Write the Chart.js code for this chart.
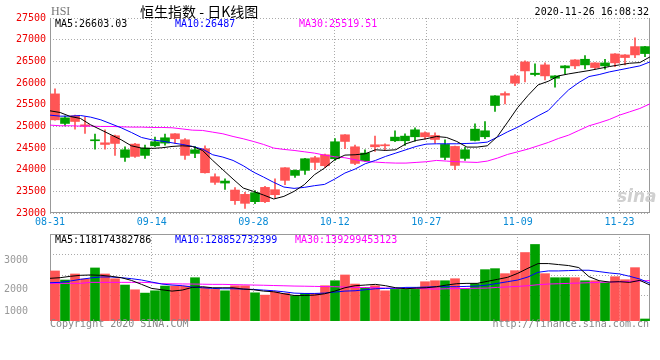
<!DOCTYPE html>
<html>
<head>
<meta charset="utf-8">
<script src="https://cdn.jsdelivr.net/npm/chart.js@4.4.1/dist/chart.umd.min.js"></script>
<style>
body{margin:0;background:#fff;}
#wrap{position:relative;width:660px;height:360px;overflow:hidden;background:#fff;}
#wrap canvas{position:absolute;left:0;}
.t{position:absolute;white-space:nowrap;font:10px 'DejaVu Sans Mono',monospace;line-height:10px;}
</style>
</head>
<body>
<div id="wrap">
  <canvas id="kChart" width="660" height="232" style="top:0"></canvas>
  <canvas id="volChart" width="660" height="110" style="top:232px"></canvas>

  <div class="t" style="left:51px;top:5px;font:12px 'Liberation Serif',serif;line-height:12px;color:#777">HSI</div>
  <div class="t" style="left:140px;top:3px;font:14px 'Noto Sans CJK SC',sans-serif;line-height:16px;color:#000">恒生指数 - 日K线图</div>
  <div class="t" style="right:11px;top:7px;color:#000">2020-11-26 16:08:32</div>

  <div class="t" style="left:55px;top:19px;color:#000" id="kLeg0"></div>
  <div class="t" style="left:175px;top:19px;color:#00f" id="kLeg1"></div>
  <div class="t" style="left:299px;top:19px;color:#f0f" id="kLeg2"></div>

  <div class="t" style="left:55px;top:235px;color:#000" id="vLeg0"></div>
  <div class="t" style="left:175px;top:235px;color:#00f" id="vLeg1"></div>
  <div class="t" style="left:295px;top:235px;color:#f0f" id="vLeg2"></div>

  <div class="t" style="left:617px;top:187px;font:bold italic 17px 'DejaVu Sans',sans-serif;line-height:18px;color:#d0d0d0">sina</div>
  <div class="t" style="left:50px;top:319px;color:#888">Copyright 2020 SINA.COM</div>
  <div class="t" style="right:11px;top:319px;color:#888">http://finance.sina.com.cn</div>
</div>
<script>
// trading days shown (HK market, 2020)
const dates = ['08-31','09-01','09-02','09-03','09-04','09-07','09-08','09-09','09-10','09-11',
  '09-14','09-15','09-16','09-17','09-18','09-21','09-22','09-23','09-24','09-25',
  '09-28','09-29','09-30','10-05','10-06','10-07','10-08','10-09','10-12','10-14',
  '10-15','10-16','10-19','10-20','10-21','10-22','10-23','10-27','10-28','10-29',
  '10-30','11-02','11-03','11-04','11-05','11-06','11-09','11-10','11-11','11-12',
  '11-13','11-16','11-17','11-18','11-19','11-20','11-23','11-24','11-25','11-26'];
const dateTicks = ['08-31','09-14','09-28','10-12','10-27','11-09','11-23'];

const opens  = [25749,25066,25243,25035,24667,24620,24782,24283,24590,24329,
  24551,24613,24828,24690,24375,24482,23837,23691,23530,23430,
  23261,23591,23538,24044,23868,23983,24275,24344,24252,24805,
  24528,24206,24574,24574,24667,24667,24759,24851,24789,24283,
  24536,24260,24674,24759,25481,25757,26164,26487,26195,26418,
  26110,26349,26533,26418,26464,26395,26671,26648,26840,26679];
const highs  = [25865,25235,25258,25212,24820,24920,24797,24528,24605,24567,
  24751,24820,24835,24720,24536,24551,23906,23791,23584,23476,
  23515,23614,23791,24050,23998,24260,24306,24359,24720,24810,
  24567,24459,24774,24597,24897,24828,24966,24874,24851,24690,
  24545,24513,25058,25112,25710,25796,26195,26510,26441,26464,
  26170,26400,26540,26633,26470,26548,26678,26655,27040,26845];
const lows   = [25140,25012,24935,24836,24475,24475,24329,24190,24283,24260,
  24528,24567,24605,24236,24275,23922,23660,23545,23200,23108,
  23215,23238,23353,23653,23822,23891,23998,24044,24213,24482,
  24114,24183,24421,24436,24644,24559,24659,24705,24613,24229,
  23998,24213,24665,24713,25342,25519,25941,26026,26164,26072,
  25903,26210,26333,26325,26325,26318,26379,26418,26587,26610];
const closes = [25150,25196,25112,25004,24690,24582,24605,24459,24306,24498,
  24644,24736,24713,24329,24459,23929,23707,23737,23284,23223,
  23468,23261,23422,23753,23983,24252,24167,24091,24644,24651,
  24144,24382,24528,24551,24751,24774,24920,24759,24697,24582,
  24098,24459,24935,24897,25703,25719,25995,26279,26226,26164,
  26164,26395,26395,26548,26356,26464,26464,26587,26648,26840];

const ma5  = [25358,25319,25227,25181,25035,24920,24805,24690,24551,24498,
  24490,24505,24536,24551,24536,24444,24213,23998,23783,23576,
  23499,23415,23323,23384,23499,23653,23883,24037,24229,24336,
  24344,24367,24459,24444,24459,24597,24674,24713,24766,24743,
  24651,24521,24521,24551,24766,25097,25435,25711,25957,26040,
  26164,26210,26249,26287,26333,26379,26418,26456,26471,26603];
const ma10 = [25258,25235,25235,25250,25212,25150,25058,24966,24859,24743,
  24690,24659,24620,24582,24536,24475,24344,24290,24213,24091,
  23945,23829,23707,23599,23568,23591,23630,23660,23783,23922,
  24014,24137,24213,24306,24382,24459,24536,24590,24597,24597,
  24597,24605,24613,24636,24751,24874,24981,25112,25243,25365,
  25611,25842,26011,26149,26195,26256,26302,26349,26395,26487];
const ma30 = [25028,25013,25013,25005,25005,24997,24997,24990,24982,24982,
  24974,24974,24967,24940,24912,24905,24866,24828,24766,24713,
  24651,24582,24498,24467,24444,24413,24382,24336,24298,24275,
  24229,24190,24175,24160,24152,24152,24167,24183,24213,24198,
  24183,24175,24167,24198,24267,24352,24413,24475,24551,24628,
  24720,24797,24905,25012,25081,25158,25258,25335,25412,25519];

// turnover, 亿港元
const volumes = [1645,1347,1546,1380,1744,1546,1390,1182,1026,917,
  993,1149,1149,1149,1423,1105,1039,993,1159,1159,
  927,851,960,907,828,907,907,1159,1324,1513,
  1215,1105,1159,993,1039,1039,1039,1291,1324,1324,
  1390,1072,1225,1688,1721,1556,1655,2251,2516,1556,
  1423,1423,1423,1324,1324,1258,1456,1357,1754,66];
const vma5  = [1403,1424,1469,1502,1513,1502,1469,1424,1336,1204,
  1071,1027,983,1016,1105,1127,1093,1093,1093,1049,
  1027,983,961,895,840,840,851,895,983,1093,
  1160,1182,1204,1160,1093,1060,1082,1093,1127,1182,
  1226,1237,1237,1303,1369,1436,1568,1734,1888,1888,
  1855,1822,1756,1458,1325,1281,1292,1270,1336,1182];
const vma10 = [1259,1270,1314,1369,1414,1447,1447,1424,1392,1347,
  1281,1215,1182,1160,1116,1093,1071,1060,1060,1049,
  1038,1016,994,961,917,906,906,917,950,983,
  994,1027,1060,1071,1082,1105,1105,1116,1127,1127,
  1127,1138,1149,1182,1237,1292,1347,1447,1602,1646,
  1646,1657,1668,1668,1624,1580,1547,1469,1380,1240];
const vma30 = [1237,1237,1237,1237,1270,1270,1270,1270,1270,1270,
  1259,1226,1222,1218,1215,1210,1204,1204,1196,1190,
  1182,1175,1166,1158,1149,1144,1138,1132,1127,1116,
  1105,1099,1093,1082,1071,1071,1071,1060,1049,1060,
  1066,1071,1077,1082,1105,1120,1138,1160,1193,1215,
  1226,1237,1248,1259,1270,1281,1292,1303,1314,1330];

const kLegend = ['MA5:26603.03', 'MA10:26487', 'MA30:25519.51'];
const vLegend = ['MA5:118174382786', 'MA10:128852732399', 'MA30:139299453123'];
const volTickLabels = ['1000', '2000', '3000'];
const volTickAt = [331, 1050, 1986];   // where sina prints them
const volGridAt = [828, 1503, 2175];
const volMax = 2860;

kLegend.forEach((s, i) => document.getElementById('kLeg' + i).textContent = s);
vLegend.forEach((s, i) => document.getElementById('vLeg' + i).textContent = s);

//------------------helpers---------------------

const upColor = '#00a000';
const downColor = '#ff5555';
const gridColor = '#aaa';
const monoFont = { family: "'DejaVu Sans Mono', monospace", size: 10 };
const candleColors = closes.map((c, i) => c >= opens[i] ? upColor : downColor);
const tickIdx = dateTicks.map(d => dates.indexOf(d));

function fixWidth(w){ return s => { s.width = w; s.paddingTop = 0; s.paddingBottom = 0; }; }
function fixHeight(h){ return s => { s.height = h; s.paddingLeft = 0; s.paddingRight = 0; }; }

function maLine(vals, color, yAxis){
  return {
    type: 'line', xAxisID: 'xg', yAxisID: yAxis,
    data: vals.map((v, i) => ({ x: i, y: v })),
    borderColor: color, borderWidth: 1, pointRadius: 0, tension: 0, order: 0
  };
}

function dateAxis(showLabels){
  return {
    type: 'linear', position: 'bottom', min: 0, max: dates.length - 1, offset: false,
    afterBuildTicks: s => { s.ticks = tickIdx.map(v => ({ value: v })); },
    afterFit: fixHeight(showLabels ? 19 : 0),
    grid: { color: gridColor, drawTicks: false, offset: false },
    border: { display: false, dash: [1, 2] },
    ticks: { display: showLabels, color: '#0a8bd6', font: monoFont, padding: 3,
      autoSkip: false, maxRotation: 0, callback: v => dates[v] }
  };
}

// plain frame lines around the plot
const framePlugin = {
  id: 'frame',
  beforeDatasetsDraw(chart, args, opts){
    const a = chart.chartArea;
    const ctx = chart.ctx;
    ctx.save();
    ctx.strokeStyle = '#999';
    ctx.lineWidth = 1;
    ctx.beginPath();
    if(opts.sides.includes('left')){ ctx.moveTo(a.left + 0.5, a.top); ctx.lineTo(a.left + 0.5, a.bottom); }
    if(opts.sides.includes('right')){ ctx.moveTo(a.right - 0.5, a.top); ctx.lineTo(a.right - 0.5, a.bottom); }
    if(opts.sides.includes('top')){ ctx.moveTo(a.left, a.top + 0.5); ctx.lineTo(a.right, a.top + 0.5); }
    if(opts.sides.includes('bottom')){ ctx.moveTo(a.left, a.bottom - 0.5); ctx.lineTo(a.right, a.bottom - 0.5); }
    ctx.stroke();
    ctx.restore();
  }
};

//------------------price chart---------------------

new Chart(document.getElementById('kChart'), {
  type: 'bar',
  data: {
    labels: dates,
    datasets: [
      { data: dates.map((d, i) => [lows[i], highs[i]]), backgroundColor: candleColors,
        barThickness: 1, grouped: false, order: 2 },
      { data: dates.map((d, i) => [Math.min(opens[i], closes[i]), Math.max(opens[i], closes[i])]),
        backgroundColor: candleColors, barThickness: 9, minBarLength: 1, grouped: false, order: 1 },
      maLine(ma5, '#000', 'y'),
      maLine(ma10, '#00f', 'y'),
      maLine(ma30, '#f0f', 'y')
    ]
  },
  options: {
    responsive: false, animation: false, devicePixelRatio: 1,
    layout: { padding: { left: 0, right: 10, top: 18, bottom: 0 } },
    plugins: { legend: { display: false }, tooltip: { enabled: false },
      frame: { sides: ['left', 'right', 'bottom'] } },
    scales: {
      x: { display: false, offset: true },
      xg: dateAxis(true),
      y: { min: 23000, max: 27500, afterFit: fixWidth(50),
        ticks: { stepSize: 500, color: '#e00', font: monoFont, padding: 4, callback: v => String(v) },
        grid: { color: gridColor, drawTicks: false },
        border: { display: false, dash: [1, 2] } }
    }
  },
  plugins: [framePlugin]
});

//------------------volume chart---------------------

new Chart(document.getElementById('volChart'), {
  type: 'bar',
  data: {
    labels: dates,
    datasets: [
      { data: volumes, backgroundColor: candleColors, barThickness: 9, grouped: false,
        yAxisID: 'yv', order: 1 },
      maLine(vma5, '#000', 'yv'),
      maLine(vma10, '#00f', 'yv'),
      maLine(vma30, '#f0f', 'yv')
    ]
  },
  options: {
    responsive: false, animation: false, devicePixelRatio: 1,
    layout: { padding: { left: 0, right: 10, top: 2, bottom: 21 } },
    plugins: { legend: { display: false }, tooltip: { enabled: false },
      frame: { sides: ['left', 'right', 'top'] } },
    scales: {
      x: { display: false, offset: true },
      xg: dateAxis(false),
      yl: { position: 'left', min: 0, max: volMax, afterFit: fixWidth(50),
        afterBuildTicks: s => { s.ticks = volTickAt.map(v => ({ value: v })); },
        ticks: { color: '#999', font: monoFont, padding: 22, callback: (v, i) => volTickLabels[i] },
        grid: { display: false, drawTicks: false }, border: { display: false } },
      yv: { position: 'right', min: 0, max: volMax, afterFit: fixWidth(0),
        afterBuildTicks: s => { s.ticks = volGridAt.map(v => ({ value: v })); },
        ticks: { display: false },
        grid: { color: gridColor, drawTicks: false },
        border: { display: false, dash: [1, 2] } }
    }
  },
  plugins: [framePlugin]
});
</script>
</body>
</html>
